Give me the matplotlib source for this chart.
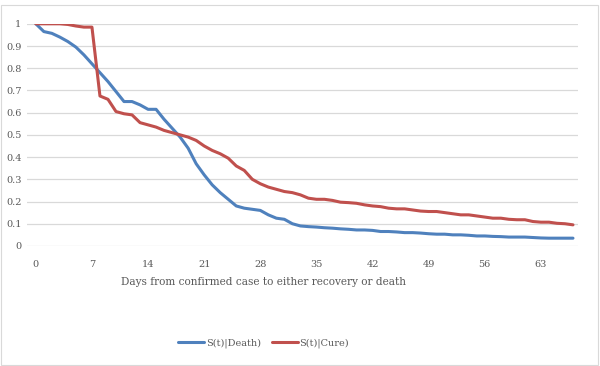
import matplotlib
matplotlib.use("Agg")
import matplotlib.pyplot as plt
from matplotlib.patches import Rectangle

days = list(range(68))

# S(t)|Death
death = [1.0, 0.965, 0.957, 0.94, 0.92, 0.895, 0.86, 0.82, 0.78, 0.74,
         0.695, 0.65, 0.65, 0.635, 0.615, 0.615, 0.57, 0.53, 0.49, 0.44,
         0.37, 0.32, 0.275, 0.24, 0.21, 0.18, 0.17, 0.165, 0.16, 0.14,
         0.125, 0.12, 0.10, 0.09, 0.087, 0.085, 0.082, 0.08, 0.077, 0.075,
         0.072, 0.072, 0.07, 0.065, 0.065, 0.063, 0.06, 0.06, 0.058, 0.055,
         0.053, 0.053, 0.05, 0.05, 0.048, 0.045, 0.045, 0.043, 0.042, 0.04,
         0.04, 0.04, 0.038, 0.036, 0.035, 0.035, 0.035, 0.035]

# S(t)|Cure
cure = [1.0, 1.0, 1.0, 1.0, 0.997, 0.99, 0.985, 0.985, 0.675, 0.66,
        0.605, 0.595, 0.59, 0.555, 0.545, 0.535, 0.52, 0.51, 0.50, 0.49,
        0.475, 0.45, 0.43, 0.415, 0.395, 0.36, 0.34, 0.30, 0.28, 0.265,
        0.255, 0.245, 0.24, 0.23, 0.215, 0.21, 0.21, 0.205, 0.197, 0.195,
        0.192, 0.185, 0.18, 0.177, 0.17, 0.167, 0.167, 0.162, 0.157, 0.155,
        0.155, 0.15, 0.145, 0.14, 0.14, 0.135, 0.13, 0.125, 0.125, 0.12,
        0.118, 0.118, 0.11, 0.107, 0.107, 0.102, 0.10, 0.095]

xticks = list(range(0, 64, 7))
yticks = [0, 0.1, 0.2, 0.3, 0.4, 0.5, 0.6, 0.7, 0.8, 0.9, 1]
ytick_labels = ["0", "0.1", "0.2", "0.3", "0.4", "0.5", "0.6", "0.7", "0.8", "0.9", "1"]

txt = "#595959"
grid = "#d9d9d9"
plt.rcParams['font.family'] = ['DejaVu Serif']

fig = plt.figure(figsize=(6, 3.66), dpi=100)
fig.patches.append(Rectangle((0.002, 0.003), 0.994, 0.982, transform=fig.transFigure,
                             fill=False, edgecolor=grid, linewidth=0.8))
ax = fig.add_axes([0.045, 0.328, 0.918, 0.607])

ax.plot(days, death, color="#4F81BD", lw=2.2, label="S(t)|Death)", solid_capstyle="round")
ax.plot(days, cure, color="#C0504D", lw=2.2, label="S(t)|Cure)", solid_capstyle="round")

ax.set_xlim(-1.1, 67.6)
ax.set_ylim(0, 1)
ax.set_xticks(xticks)
ax.set_yticks(yticks)
ax.set_yticklabels(ytick_labels)
ax.tick_params(length=0, labelsize=7, colors=txt)
ax.tick_params(axis="x", pad=10)
ax.tick_params(axis="y", pad=4)
ax.grid(axis="y", color=grid, lw=0.9)
ax.set_axisbelow(True)
for s in ax.spines.values():
    s.set_visible(False)

ax.set_xlabel("Days from confirmed case to either recovery or death", fontsize=7.6, color=txt)
ax.xaxis.set_label_coords(0.43, -0.14)
leg = ax.legend(loc="center", bbox_to_anchor=(0.43, -0.437), ncol=2, frameon=False,
                fontsize=7, handlelength=2.6, columnspacing=1.2, handletextpad=0.2)
for t in leg.get_texts():
    t.set_color(txt)

fig.savefig("out.png", dpi=100)
